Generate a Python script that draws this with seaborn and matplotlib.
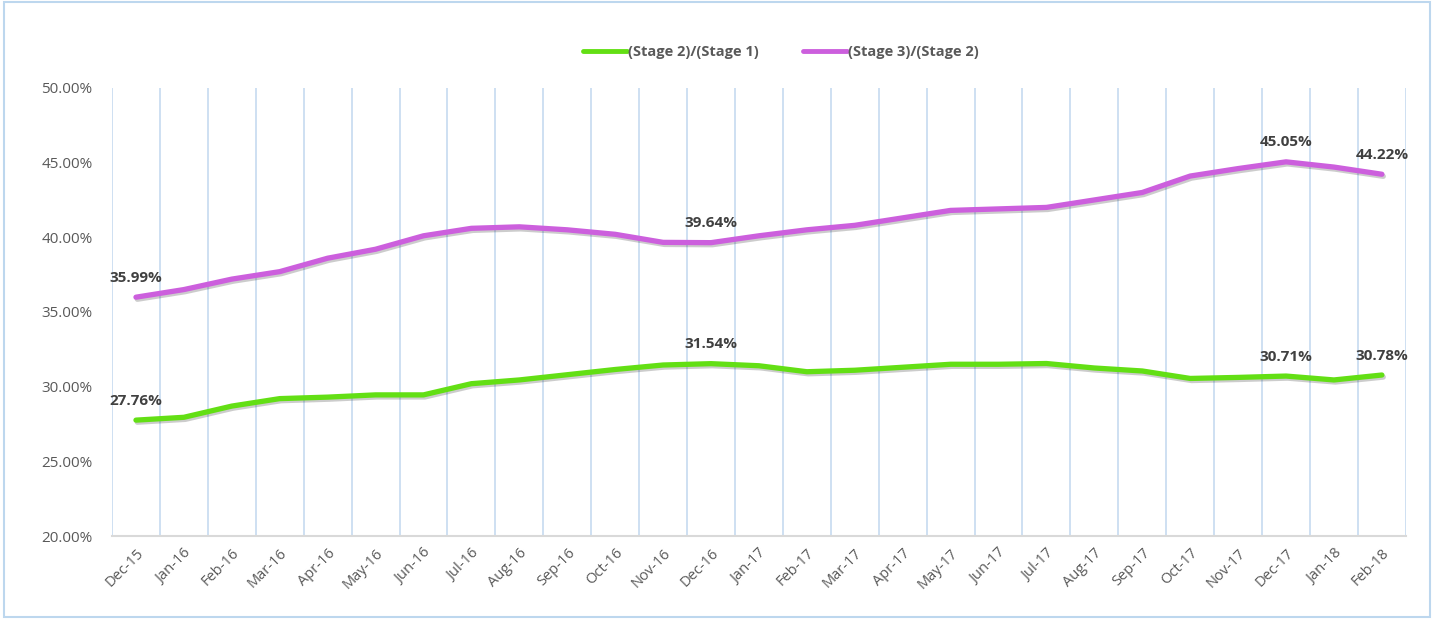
import seaborn as sns
import matplotlib.pyplot as plt
import matplotlib.patheffects as pe
from matplotlib.patches import Rectangle
from matplotlib.ticker import FuncFormatter, FixedLocator
import pandas as pd
import numpy as np

months = ['Dec-15', 'Jan-16', 'Feb-16', 'Mar-16', 'Apr-16', 'May-16', 'Jun-16',
          'Jul-16', 'Aug-16', 'Sep-16', 'Oct-16', 'Nov-16', 'Dec-16', 'Jan-17',
          'Feb-17', 'Mar-17', 'Apr-17', 'May-17', 'Jun-17', 'Jul-17', 'Aug-17',
          'Sep-17', 'Oct-17', 'Nov-17', 'Dec-17', 'Jan-18', 'Feb-18']

stage2_1 = [27.76, 27.95, 28.7, 29.2, 29.3, 29.45, 29.45, 30.2, 30.45, 30.8,
            31.15, 31.45, 31.54, 31.4, 31.0, 31.1, 31.3, 31.5, 31.5, 31.55,
            31.25, 31.05, 30.55, 30.62, 30.71, 30.45, 30.78]

stage3_2 = [35.99, 36.5, 37.2, 37.7, 38.6, 39.2, 40.1, 40.6, 40.7, 40.5,
            40.2, 39.66, 39.64, 40.1, 40.5, 40.8, 41.3, 41.8, 41.9, 42.0,
            42.5, 43.0, 44.1, 44.6, 45.05, 44.7, 44.22]

# points that carry a data label
labeled = [0, 12, 24, 26]

names = ['(Stage 2)/(Stage 1)', '(Stage 3)/(Stage 2)']
colors = ['#63DF14', '#CC5FDD']

df = pd.DataFrame({
    'x': list(range(len(months))) * 2,
    'value': stage2_1 + stage3_2,
    'series': [names[0]] * len(months) + [names[1]] * len(months),
})

sns.set_theme(style='white')
plt.rcParams['font.family'] = ['Open Sans', 'DejaVu Sans']

fig = plt.figure(figsize=(14.36, 6.19), dpi=100)
ax = fig.add_axes([0.078, 0.134, 0.901, 0.724])

sns.lineplot(data=df, x='x', y='value', hue='series', palette=colors,
             linewidth=3.8, ax=ax, legend=True)

for line in ax.get_lines():
    line.set_solid_capstyle('round')
    line.set_path_effects([pe.SimpleLineShadow(offset=(1, -1.5), alpha=0.22),
                           pe.Normal()])

ax.set_ylim(20, 50)
ax.set_xlim(-0.5, len(months) - 0.5)
ax.set_yticks(np.arange(20, 50.1, 5))
ax.yaxis.set_major_formatter(FuncFormatter(lambda v, p: f'{v:.2f}%'))
ax.set_xticks(range(len(months)))
ax.set_xticklabels(months, rotation=45, ha='right', rotation_mode='anchor')
ax.xaxis.set_minor_locator(FixedLocator(np.arange(-0.5, len(months), 1)))
ax.grid(which='minor', axis='x', color='#C6DAF0', linewidth=1.2)
ax.grid(which='major', visible=False)
ax.tick_params(axis='x', which='major', length=0, labelsize=10.5, colors='#595959', pad=7)
ax.tick_params(axis='x', which='minor', length=4, color='#C6DAF0', width=1.2)
ax.tick_params(axis='y', length=0, labelsize=11, colors='#595959', pad=14)
ax.set_xlabel('')
ax.set_ylabel('')
for s in ['top', 'right', 'left']:
    ax.spines[s].set_visible(False)
ax.spines['bottom'].set_color('#D9D9D9')
ax.spines['bottom'].set_linewidth(1.5)

for vals in [stage2_1, stage3_2]:
    for i in labeled:
        ax.annotate(f'{vals[i]:.2f}%', (i, vals[i]), xytext=(0, 9),
                    textcoords='offset points', ha='center', va='bottom',
                    fontsize=11, fontweight='bold', color='#404040')

leg = ax.legend(loc='center', bbox_to_anchor=(0.517, 1.08), ncol=2,
                frameon=False, handlelength=3.0, handletextpad=0.1,
                columnspacing=3.0, prop={'size': 10.5, 'weight': 'bold'})
for t in leg.get_texts():
    t.set_color('#595959')
for h in leg.legend_handles:
    h.set_linewidth(3.5)
    h.set_path_effects([])

fig.patches.append(Rectangle((0.003, 0.004), 0.993, 0.992, transform=fig.transFigure,
                             fill=False, edgecolor='#BDD7EE', linewidth=1.5))

fig.savefig('out.png', dpi=100)
